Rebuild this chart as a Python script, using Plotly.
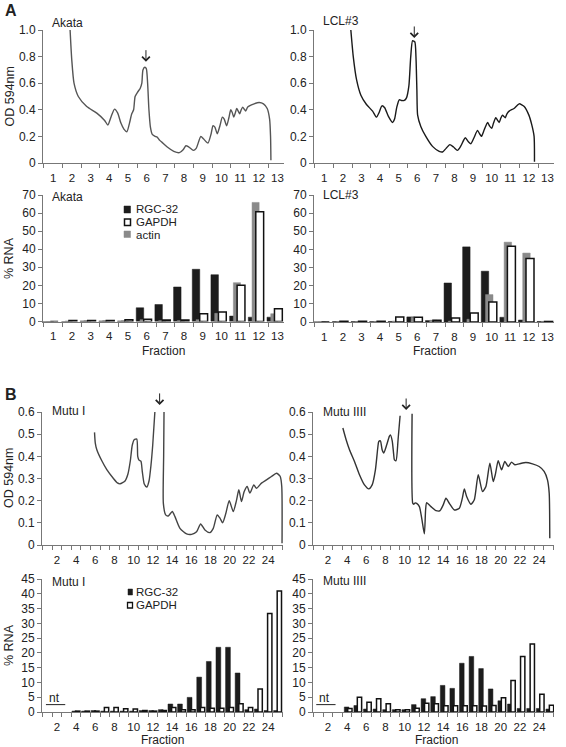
import plotly.graph_objects as go

W, H = 566, 747

# ---------------- data ----------------
fractions_A = list(range(1, 14))
fractions_B = list(range(1, 26))

# OD 594nm profiles (fraction, OD)
akata_od_x = [1.9, 1.99, 2.11, 2.34, 2.79, 3.33, 3.75, 3.92, 4.1, 4.28, 4.45, 4.62, 4.78, 4.94, 5.08, 5.2, 5.3,
              5.38, 5.5, 5.65, 5.74, 5.8, 5.9, 5.98, 6.05, 6.12, 6.2, 6.3, 6.45, 6.56, 6.7, 6.82, 7.1, 7.45, 7.75,
              7.95, 8.1, 8.26, 8.5, 8.65, 8.9, 9.05, 9.28, 9.45, 9.55, 9.65, 9.78, 9.92, 10.05, 10.15, 10.28, 10.4,
              10.5, 10.58, 10.66, 10.75, 10.82, 10.9, 10.98, 11.06, 11.14, 11.22, 11.3, 11.4, 11.5, 11.75, 12.02,
              12.25, 12.45, 12.58, 12.63, 12.65]
akata_od_y = [1.0, 0.775, 0.6, 0.5, 0.425, 0.375, 0.32, 0.285, 0.35, 0.405, 0.375, 0.3, 0.255, 0.235, 0.3, 0.37, 0.4,
              0.5, 0.53, 0.56, 0.6, 0.7, 0.72, 0.71, 0.6, 0.4, 0.27, 0.215, 0.2, 0.195, 0.17, 0.155, 0.12, 0.088, 0.078,
              0.1, 0.13, 0.12, 0.095, 0.11, 0.2, 0.18, 0.15, 0.22, 0.28, 0.27, 0.22, 0.28, 0.345, 0.33, 0.28, 0.34,
              0.4, 0.38, 0.345, 0.38, 0.41, 0.39, 0.37, 0.4, 0.42, 0.405, 0.39, 0.42, 0.43, 0.445, 0.455,
              0.445, 0.41, 0.33, 0.2, 0.02]

lcl_od_x = [2.43, 2.56, 2.74, 2.97, 3.27, 3.6, 3.81, 3.95, 4.1, 4.25, 4.45, 4.67, 4.78, 4.9, 5.03, 5.15, 5.3, 5.42,
            5.55, 5.65, 5.75, 5.87, 5.93, 5.98, 6.02, 6.19, 6.46, 6.82, 7.18, 7.36, 7.55, 7.75, 7.95, 8.16, 8.35,
            8.58, 8.75, 8.88, 9.05, 9.24, 9.35, 9.45, 9.6, 9.78, 9.88, 10.0, 10.1, 10.22, 10.32, 10.4, 10.5, 10.58,
            10.66, 10.73, 10.82, 10.94, 11.2, 11.48, 11.75, 12.0, 12.15, 12.28, 12.3]
lcl_od_y = [1.0, 0.8, 0.625, 0.51, 0.44, 0.39, 0.345, 0.38, 0.43, 0.415, 0.35, 0.305, 0.33, 0.42, 0.475, 0.47, 0.47, 0.49,
            0.58, 0.8, 0.92, 0.91, 0.8, 0.55, 0.36, 0.275, 0.2, 0.125, 0.088, 0.083, 0.11, 0.138, 0.12, 0.095, 0.13,
            0.19, 0.16, 0.145, 0.19, 0.245, 0.22, 0.2, 0.25, 0.305, 0.28, 0.26, 0.3, 0.34, 0.32, 0.305, 0.34, 0.36,
            0.35, 0.34, 0.37, 0.39, 0.41, 0.445, 0.425, 0.36, 0.29, 0.2, 0.01]

mutu1_od_x = [5.92, 6.0, 6.16, 6.68, 7.2, 7.89, 8.3, 8.58, 9.1, 9.4, 9.65, 9.85, 10.05, 10.32, 10.42, 10.55, 10.75,
              10.9, 11.1, 11.36, 11.6, 11.8, 11.98, 12.22, None,
              13.16, 13.12, 13.09, 13.33, 13.6, 14.02, 14.3, 14.82, 15.51, 16.03, 16.55, 16.97, 17.42, 17.94, 18.29,
              18.7, 19.0, 19.26, 19.6, 19.95, 20.37, 20.7, 20.95, 21.23, 21.5, 21.82, 22.1, 22.51, 22.79, 23.31,
              23.83, 24.35, 24.87, 25.25, 25.42, 25.45]
mutu1_od_y = [0.508, 0.46, 0.43, 0.38, 0.34, 0.3, 0.28, 0.276, 0.289, 0.32, 0.38, 0.45, 0.475, 0.478, 0.4, 0.383, 0.378,
              0.33, 0.275, 0.261, 0.29, 0.36, 0.45, 0.61, None,
              0.61, 0.4, 0.188, 0.136, 0.131, 0.151, 0.128, 0.075, 0.05, 0.048, 0.06, 0.095, 0.068, 0.056, 0.075,
              0.136, 0.12, 0.1, 0.143, 0.2, 0.151, 0.2, 0.249, 0.196, 0.24, 0.264, 0.234, 0.271, 0.256, 0.279,
              0.294, 0.309, 0.324, 0.31, 0.264, 0.008]

mutu4_od_x = [3.56, 3.9, 4.25, 4.77, 5.29, 5.81, 6.26, 6.61, 6.95, 7.2, 7.3, 7.47, 7.65, 7.82, 8.13, 8.4, 8.51, 8.7,
              8.85, 8.93, 9.1, 9.31, 9.52, None,
              10.77, 10.84, 10.94, 11.1, 11.25, 11.53, 11.8, 12.05, 12.18, 12.29, 12.74, 13.26, 13.68, 14.0, 14.3,
              14.65, 15.17, 15.69, 16.0, 16.21, 16.45, 16.9, 17.25, 17.66, 18.11, 18.46, 18.87, 19.22, 19.45, 19.74,
              20.09, 20.43, 20.78, 21.13, 21.47, 21.92, 22.62, 23.31, 24.0, 24.52, 24.87, 25.05, 25.11]
mutu4_od_y = [0.528, 0.475, 0.43, 0.377, 0.317, 0.271, 0.253, 0.271, 0.339, 0.44, 0.467, 0.47, 0.43, 0.415, 0.452, 0.49,
              0.497, 0.47, 0.41, 0.384, 0.381, 0.475, 0.583, None,
              0.592, 0.188, 0.184, 0.19, 0.188, 0.173, 0.113, 0.05, 0.16, 0.191, 0.173, 0.155, 0.155, 0.18, 0.211,
              0.188, 0.158, 0.166, 0.21, 0.253, 0.219, 0.184, 0.204, 0.317, 0.241, 0.264, 0.369, 0.286, 0.32, 0.38,
              0.339, 0.377, 0.354, 0.374, 0.362, 0.366, 0.372, 0.366, 0.354, 0.332, 0.294, 0.234, 0.03]

# % RNA per fraction
akata_rgc32 = [0, 0, 0.3, 0.3, 0.3, 7.6, 9.4, 19.1, 28.9, 25.9, 3.0, 2.4, 2.4]
akata_actin = [0, 0.3, 0.5, 0.5, 0.5, 1.0, 0.5, 0.5, 1.0, 4.5, 21.5, 65.9, 4.3]
akata_gapdh = [0, 0.5, 0.5, 0.5, 1.0, 1.2, 0.8, 0.8, 4.3, 5.2, 20.0, 60.7, 7.0]

lcl_rgc32 = [0, 0.2, 0.2, 0.2, 0.3, 2.8, 0.8, 21.5, 41.4, 28.0, 2.6, 1.1, 0.3]
lcl_actin = [0, 0.3, 0.2, 0.3, 0.5, 2.5, 1.0, 0.5, 1.5, 15.1, 44.0, 38.0, 0.3]
lcl_gapdh = [0, 0.4, 0.4, 0.4, 2.8, 2.6, 1.0, 2.2, 5.0, 11.0, 41.8, 35.0, 0.3]

mutu1_rgc32 = [None, None, None, 0.3, 0.3, 0.5, 0.3, 0.3, 0.3, 0.3, 0.5, 0.5, 0.8, 2.7, 2.7, 4.95, 11.8, 17.1,
               21.9, 21.9, 13.2, 0.8, 1.0, 0.5, 0.5]
mutu1_gapdh = [None, None, None, 0.3, 0.3, 0.3, 1.5, 1.5, 1.1, 1.0, 0.5, 0.3, 0.5, 1.5, 0.8, 0.8, 1.5, 1.3,
               1.3, 1.5, 2.8, 1.5, 7.8, 33.3, 40.9]

mutu4_rgc32 = [None, None, None, 1.7, 2.2, 1.0, 1.0, 0.8, 0.8, 0.8, 2.5, 4.5, 5.2, 9.0, 8.0, 16.5, 18.8, 14.7,
               7.8, 3.8, 2.7, 1.2, 1.2, 1.2, 1.0]
mutu4_gapdh = [None, None, None, 1.2, 5.0, 3.3, 4.5, 2.8, 0.8, 0.8, 1.3, 3.0, 2.8, 2.1, 2.1, 2.1, 2.1, 2.0,
               2.2, 4.8, 10.7, 18.8, 23.0, 6.0, 2.3]

# peak arrows: (fraction, OD at arrow tip)
arrow_akata = (5.96, 0.762)
arrow_lcl = (5.84, 0.94)
arrow_mutu1 = (12.7, 0.632)
arrow_mutu4 = (10.15, 0.609)

ticks_A = fractions_A
ticks_B = list(range(2, 25, 2))
od_ticks_A = [0, 0.2, 0.4, 0.6, 0.8, 1.0]
od_ticks_B = [0, 0.1, 0.2, 0.3, 0.4, 0.5, 0.6]
rna_ticks_A = list(range(0, 71, 10))
rna_ticks_B = list(range(0, 46, 5))

# ---------------- style ----------------
FONT = "Liberation Sans, Arial, sans-serif"
TXT = "#222222"
AX = "#777777"
BLACK = "#1c1c1c"
GRAY = "#8a8a8a"


def px(x):
    return x / W


def py(y):
    return 1 - y / H


def xdom(a, b):
    return [px(a), px(b)]


def ydom(top, bottom):
    return [py(bottom), py(top)]


fig = go.Figure()

# OD traces
for xs, ys, col, xa, ya in [(akata_od_x, akata_od_y, "#555555", "x", "y"),
                            (lcl_od_x, lcl_od_y, "#1a1a1a", "x2", "y2"),
                            (mutu1_od_x, mutu1_od_y, "#444444", "x5", "y5"),
                            (mutu4_od_x, mutu4_od_y, "#333333", "x6", "y6")]:
    fig.add_trace(go.Scatter(x=xs, y=ys, mode="lines",
                             line=dict(color=col, width=1.4, shape="spline", smoothing=0.6),
                             xaxis=xa, yaxis=ya, showlegend=False, hoverinfo="skip"))


def bars(x, y, name, kind, xa, ya, center, width):
    if kind == "black":
        marker = dict(color=BLACK, line=dict(color=BLACK, width=0.5))
    elif kind == "gray":
        marker = dict(color=GRAY, line=dict(color=GRAY, width=0.5))
    else:
        marker = dict(color="white", line=dict(color="#111111", width=1.5))
    return go.Bar(x=x, y=y, name=name, marker=marker, xaxis=xa, yaxis=ya, showlegend=False,
                  width=width, offset=center - width / 2)


# overlapping bars (as in the original): per-panel bar centre offsets relative to the fraction
fig.add_trace(bars(fractions_A, akata_rgc32, "RGC-32", "black", "x3", "y3", -0.36, 0.4))
fig.add_trace(bars(fractions_A, akata_actin, "actin", "gray", "x3", "y3", -0.17, 0.38))
fig.add_trace(bars(fractions_A, akata_gapdh, "GAPDH", "white", "x3", "y3", 0.05, 0.42))
fig.add_trace(bars(fractions_A, lcl_rgc32, "RGC-32", "black", "x4", "y4", -0.36, 0.4))
fig.add_trace(bars(fractions_A, lcl_actin, "actin", "gray", "x4", "y4", -0.13, 0.4))
fig.add_trace(bars(fractions_A, lcl_gapdh, "GAPDH", "white", "x4", "y4", 0.06, 0.43))
fig.add_trace(bars(fractions_B, mutu1_rgc32, "RGC-32", "black", "x7", "y7", -0.18, 0.5))
fig.add_trace(bars(fractions_B, mutu1_gapdh, "GAPDH", "white", "x7", "y7", 0.17, 0.45))
fig.add_trace(bars(fractions_B, mutu4_rgc32, "RGC-32", "black", "x8", "y8", -0.05, 0.48))
fig.add_trace(bars(fractions_B, mutu4_gapdh, "GAPDH", "white", "x8", "y8", 0.29, 0.45))


def xaxis(domain, rng, fr, tv, anchor):
    minor_vals = [f - 0.5 for f in fr] + [fr[-1] + 0.5]
    return dict(domain=domain, range=rng, anchor=anchor, automargin=False,
                tickmode="array", tickvals=tv, ticktext=[str(t) for t in tv],
                ticks="outside", ticklen=4, tickcolor="rgba(0,0,0,0)",
                minor=dict(tickmode="array", tickvals=minor_vals, ticks="outside", ticklen=4, tickcolor=AX, tickwidth=1),
                showline=True, linecolor=AX, linewidth=1, showgrid=False, zeroline=False,
                tickfont=dict(family=FONT, size=11.5, color=TXT), fixedrange=True)


def yaxis(domain, rng, tv, tt, anchor):
    return dict(domain=domain, range=rng, anchor=anchor, automargin=False,
                tickmode="array", tickvals=tv, ticktext=tt,
                ticks="outside", ticklen=4, tickcolor=AX, tickwidth=1,
                showline=True, linecolor=AX, linewidth=1, showgrid=False, zeroline=False,
                tickfont=dict(family=FONT, size=12, color=TXT), fixedrange=True)


def fmt1(v):
    return "0" if v == 0 else f"{v:.1f}"


rngA = [0.45, 13.35]
rngB = [0.45, 25.55]
od_rngB = [0, 0.6]
ydomB_od = ydom(412, 545)

fig.update_layout(
    template="none",
    xaxis=xaxis(xdom(43, 284), rngA, fractions_A, ticks_A, "y"),
    yaxis=yaxis(ydom(30, 163), [0, 1.0], od_ticks_A, [fmt1(v) for v in od_ticks_A], "x"),
    xaxis2=xaxis(xdom(314, 554), rngA, fractions_A, ticks_A, "y2"),
    yaxis2=yaxis(ydom(30, 163), [0, 1.0], od_ticks_A, [fmt1(v) for v in od_ticks_A], "x2"),
    xaxis3=xaxis(xdom(43, 284), rngA, fractions_A, ticks_A, "y3"),
    yaxis3=yaxis(ydom(195, 321.5), [0, 70], rna_ticks_A, [str(v) for v in rna_ticks_A], "x3"),
    xaxis4=xaxis(xdom(314, 554), rngA, fractions_A, ticks_A, "y4"),
    yaxis4=yaxis(ydom(195, 322), [0, 70], rna_ticks_A, [str(v) for v in rna_ticks_A], "x4"),
    xaxis5=xaxis(xdom(42, 283), rngB, fractions_B, ticks_B, "y5"),
    yaxis5=yaxis(ydomB_od, od_rngB, od_ticks_B, [fmt1(v) for v in od_ticks_B], "x5"),
    xaxis6=xaxis(xdom(313, 554), rngB, fractions_B, ticks_B, "y6"),
    yaxis6=yaxis(ydomB_od, od_rngB, od_ticks_B, [fmt1(v) for v in od_ticks_B], "x6"),
    xaxis7=xaxis(xdom(42, 283), rngB, fractions_B, ticks_B, "y7"),
    yaxis7=yaxis(ydom(579, 712), [0, 45], rna_ticks_B, [str(v) for v in rna_ticks_B], "x7"),
    xaxis8=xaxis(xdom(313, 554), rngB, fractions_B, ticks_B, "y8"),
    yaxis8=yaxis(ydom(579, 712), [0, 45], rna_ticks_B, [str(v) for v in rna_ticks_B], "x8"),
    barmode="overlay",
    width=W, height=H, autosize=False,
    margin=dict(l=0, r=0, t=0, b=0, pad=0),
    paper_bgcolor="white", plot_bgcolor="white",
    showlegend=False,
    font=dict(family=FONT, color=TXT),
)

ann = []


def ptext(x, y, text, size=12, xanchor="left", angle=0, bold=False):
    ann.append(dict(x=px(x), y=py(y), xref="paper", yref="paper", text=f"<b>{text}</b>" if bold else text,
                    showarrow=False, xanchor=xanchor, yanchor="middle", textangle=angle,
                    font=dict(family=FONT, size=size, color=TXT)))


# panel letters
ptext(3, 11, "A", size=16, bold=True)
ptext(3, 394, "B", size=16, bold=True)

# panel titles
ptext(50, 23, "Akata")
ptext(321, 21, "LCL#3")
ptext(50, 197, "Akata")
ptext(321, 195, "LCL#3")
ptext(50, 411, "Mutu I")
ptext(321, 412, "Mutu IIII")
ptext(50, 582, "Mutu I")
ptext(321, 581, "Mutu IIII")

# axis titles
ptext(9, 96.5, "OD 594nm", size=12.5, xanchor="center", angle=-90)
ptext(9, 258, "% RNA", size=12.5, xanchor="center", angle=-90)
ptext(9, 478, "OD 594nm", size=12.5, xanchor="center", angle=-90)
ptext(9, 645, "% RNA", size=12.5, xanchor="center", angle=-90)
ptext(163, 351, "Fraction", size=12, xanchor="center")
ptext(434, 351, "Fraction", size=12, xanchor="center")
ptext(162, 740, "Fraction", size=12, xanchor="center")
ptext(436, 740, "Fraction", size=12, xanchor="center")


def od_to_paper(v):
    return ydomB_od[0] + (v - od_rngB[0]) / (od_rngB[1] - od_rngB[0]) * (ydomB_od[1] - ydomB_od[0])


# peak arrows (tip position, open head); B arrows sit above the axis top, so their y uses paper coords
arrow_specs = [("x", "y", arrow_akata[0], arrow_akata[1]),
               ("x2", "y2", arrow_lcl[0], arrow_lcl[1]),
               ("x5", "paper", arrow_mutu1[0], od_to_paper(arrow_mutu1[1])),
               ("x6", "paper", arrow_mutu4[0], od_to_paper(arrow_mutu4[1]))]
for xr, yr, xv, yv in arrow_specs:
    ann.append(dict(x=xv, y=yv, xref=xr, yref=yr, text="", showarrow=True, ax=0, ay=-13,
                    arrowhead=4, arrowsize=1.5, arrowwidth=1.0, arrowcolor=TXT))

# nt labels
for xr, yr, xv in [("x7", "y7", 1.76), ("x8", "y8", 1.65)]:
    ann.append(dict(x=xv, y=4.6, xref=xr, yref=yr, text="nt", showarrow=False, xanchor="center", yanchor="middle",
                    font=dict(family=FONT, size=12, color=TXT)))

# legend texts
ptext(134, 209.5, "RGC-32", size=11.5)
ptext(134, 222, "GAPDH", size=11.5)
ptext(134, 234.5, "actin", size=11.5)
ptext(134, 592, "RGC-32", size=11.5)
ptext(134, 605, "GAPDH", size=11.5)

shapes = []
# legend swatches
shapes.append(dict(type="rect", xref="paper", yref="paper", x0=px(124), x1=px(130.5), y0=py(213), y1=py(206),
                   fillcolor=BLACK, line=dict(color=BLACK, width=0.5)))
shapes.append(dict(type="rect", xref="paper", yref="paper", x0=px(124.5), x1=px(130.5), y0=py(225.5), y1=py(219),
                   fillcolor="white", line=dict(color="#111111", width=1.5)))
shapes.append(dict(type="rect", xref="paper", yref="paper", x0=px(124), x1=px(130.5), y0=py(237.5), y1=py(231),
                   fillcolor=GRAY, line=dict(color=GRAY, width=0.5)))
shapes.append(dict(type="rect", xref="paper", yref="paper", x0=px(128), x1=px(132.5), y0=py(595), y1=py(589),
                   fillcolor=BLACK, line=dict(color=BLACK, width=0.5)))
shapes.append(dict(type="rect", xref="paper", yref="paper", x0=px(127.5), x1=px(132.5), y0=py(608), y1=py(602.5),
                   fillcolor="white", line=dict(color="#111111", width=1.3)))
# "nt" (not tested) bars
shapes.append(dict(type="line", xref="x7", yref="y7", x0=0.86, x1=2.87, y0=2.5, y1=2.5, line=dict(color="#222", width=1)))
shapes.append(dict(type="line", xref="x8", yref="y8", x0=0.79, x1=2.8, y0=2.5, y1=2.5, line=dict(color="#222", width=1)))

fig.update_layout(annotations=ann, shapes=shapes)

fig.write_html("out.html", config={"displayModeBar": False},
               post_script="document.body.style.margin='0';document.body.style.overflow='hidden';")
